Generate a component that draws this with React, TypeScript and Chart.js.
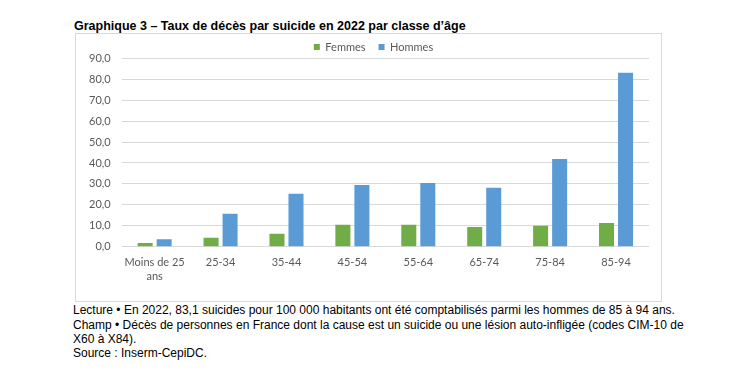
import React, { useEffect, useRef } from "react";
import { Chart, registerables } from "chart.js";

Chart.register(...registerables);

const categories: (string | string[])[] = [["Moins de 25", "ans"], "25-34", "35-44", "45-54", "55-64", "65-74", "75-84", "85-94"];
const femmes = [1.8, 4.3, 6.2, 10.5, 10.5, 9.4, 10.0, 11.3];
const hommes = [3.6, 15.8, 25.3, 29.5, 30.4, 28.2, 41.9, 83.1];
const seriesNames = ["Femmes", "Hommes"];
const yMin = 0;
const yMax = 90;
const yStep = 10;

const titleText = "Graphique 3 – Taux de décès par suicide en 2022 par classe d’âge";
const noteLines = [
  "Lecture • En 2022, 83,1 suicides pour 100 000 habitants ont été comptabilisés parmi les hommes de 85 à 94 ans.",
  "Champ • Décès de personnes en France dont la cause est un suicide ou une lésion auto-infligée (codes CIM-10 de",
  "X60 à X84).",
  "Source : Inserm-CepiDC.",
];

const GREEN = "#70ad47";
const BLUE = "#5b9bd5";
const GRID = "#d9d9d9";
const TXT = "#595959";
const FONT = "Lato";

// shifts the legend horizontally so it is centred like the reference
const legendShift = {
  id: "legendShift",
  afterLayout(chart: any) {
    const lg = chart.legend;
    if (lg) {
      lg.left += 11.5;
      lg.right += 11.5;
    }
  },
};

export default function App() {
  const ref = useRef<HTMLCanvasElement | null>(null);

  useEffect(() => {
    if (!ref.current) return;
    const chart = new Chart(ref.current, {
      type: "bar",
      data: {
        labels: categories as any,
        datasets: [
          { label: seriesNames[0], data: femmes, backgroundColor: GREEN, borderWidth: 0, categoryPercentage: 0.577, barPercentage: 0.79 },
          { label: seriesNames[1], data: hommes, backgroundColor: BLUE, borderWidth: 0, categoryPercentage: 0.577, barPercentage: 0.79 },
        ],
      },
      plugins: [legendShift],
      options: {
        responsive: false,
        animation: false,
        layout: { padding: { top: -4.5, left: 0, right: 13, bottom: 0 } },
        plugins: {
          legend: {
            position: "top",
            align: "center",
            maxHeight: 29.8,
            labels: {
              boxWidth: 6,
              boxHeight: 6,
              padding: 13,
              color: TXT,
              font: { family: FONT, size: 11 },
            },
          },
          tooltip: { enabled: false },
        },
        scales: {
          x: {
            grid: { display: false, drawTicks: false },
            border: { display: false },
            ticks: {
              color: TXT,
              font: { family: FONT, size: 11, lineHeight: 1.25 },
              padding: 9,
              maxRotation: 0,
              autoSkip: false,
            },
            afterFit: (s: any) => {
              s.height = 55.3;
            },
          },
          y: {
            min: yMin,
            max: yMax,
            ticks: {
              stepSize: yStep,
              color: TXT,
              font: { family: FONT, size: 11 },
              padding: 11,
              callback: (v: any) => Number(v).toFixed(1).replace(".", ","),
            },
            grid: { color: GRID, drawTicks: false, lineWidth: 1 },
            border: { display: false },
            afterFit: (s: any) => {
              s.width = 46.7;
            },
          },
        },
      },
    });
    return () => chart.destroy();
  }, []);

  return (
    <div style={{ position: "absolute", left: 0, top: 0, width: 746, height: 383, background: "#fff", overflow: "hidden" }}>
      <div
        style={{
          position: "absolute",
          left: 74,
          top: 18.5,
          font: "bold 12.5px 'Liberation Sans', Arial, sans-serif",
          lineHeight: "15px",
          color: "#000",
          whiteSpace: "nowrap",
        }}
      >
        {titleText}
      </div>
      <div
        style={{
          position: "absolute",
          left: 75,
          top: 33,
          width: 587,
          height: 269,
          boxSizing: "border-box",
          border: `1px solid ${GRID}`,
        }}
      />
      <canvas
        ref={ref}
        width={587}
        height={269}
        style={{ position: "absolute", left: 75, top: 33, width: 587, height: 269 }}
      />
      <div
        style={{
          position: "absolute",
          left: 73,
          top: 303.4,
          font: "12px 'Liberation Sans', Arial, sans-serif",
          lineHeight: "14.3px",
          color: "#000",
          whiteSpace: "nowrap",
        }}
      >
        {noteLines.map((l, i) => (
          <div key={i}>{l}</div>
        ))}
      </div>
    </div>
  );
}
